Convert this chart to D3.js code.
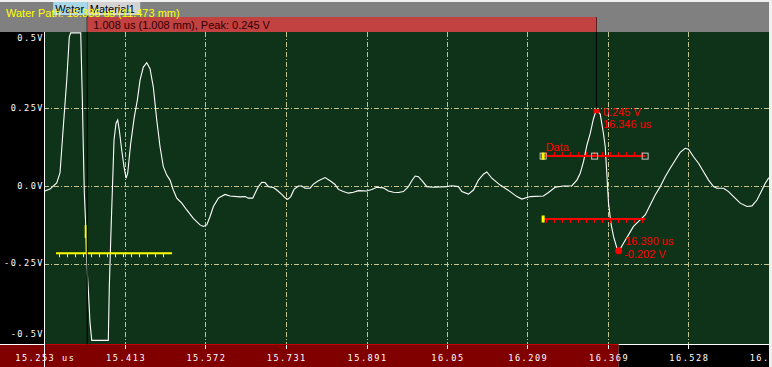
<!DOCTYPE html>
<html>
<head>
<meta charset="utf-8">
<script src="https://cdn.jsdelivr.net/npm/d3@7"></script>
<style>
  html, body { margin: 0; padding: 0; background: #f0f0f0; }
  svg { display: block; }
  .ax { font-family: "DejaVu Sans Mono", monospace; font-size: 8.6px; letter-spacing: 1.5px; fill: #ffffff; }
  .ui { font-family: "Liberation Sans", Arial, sans-serif; font-size: 11px; }
</style>
</head>
<body>
<div id="chart"></div>
<script>
// ---- waveform (time in us, amplitude in V) ----
const timeUs = [
  15.2530, 15.2643, 15.2776, 15.2841, 15.2906, 15.2974, 15.3025, 15.3053, 15.3251, 15.3282,
  15.3302, 15.3322, 15.3350, 15.3370, 15.3401, 15.3435, 15.3469, 15.3797, 15.3817, 15.3851,
  15.3884, 15.3910, 15.3950, 15.3983, 15.4015, 15.4063, 15.4108, 15.4148, 15.4181, 15.4241,
  15.4312, 15.4372, 15.4425, 15.4490, 15.4558, 15.4623, 15.4688, 15.4756, 15.4821, 15.4886,
  15.4954, 15.5019, 15.5084, 15.5152, 15.5251, 15.5350, 15.5480, 15.5613, 15.5679, 15.5746,
  15.5811, 15.5877, 15.5976, 15.6108, 15.6207, 15.6405, 15.6504, 15.6570, 15.6657, 15.6702,
  15.6768, 15.6835, 15.6900, 15.6966, 15.7065, 15.7132, 15.7231, 15.7297, 15.7350, 15.7409,
  15.7474, 15.7560, 15.7627, 15.7692, 15.7791, 15.7857, 15.7956, 15.8088, 15.8187, 15.8286,
  15.8352, 15.8451, 15.8550, 15.8649, 15.8748, 15.8914, 15.9013, 15.9112, 15.9243, 15.9342,
  15.9441, 15.9540, 15.9639, 15.9738, 15.9805, 15.9871, 15.9936, 16.0023, 16.0102, 16.0233,
  16.0498, 16.0597, 16.0728, 16.0795, 16.0926, 16.1025, 16.1124, 16.1223, 16.1290, 16.1389,
  16.1554, 16.1752, 16.1885, 16.1984, 16.2148, 16.2411, 16.2510, 16.2643, 16.2808, 16.2974,
  16.3073, 16.3139, 16.3204, 16.3271, 16.3337, 16.3402, 16.3460, 16.3535, 16.3600, 16.3634,
  16.3667, 16.3699, 16.3747, 16.3798, 16.3865, 16.3911, 16.3995, 16.4094, 16.4193, 16.4326,
  16.4425, 16.4524, 16.4623, 16.4722, 16.4821, 16.4920, 16.5019, 16.5118, 16.5217, 16.5283,
  16.5382, 16.5481, 16.5580, 16.5679, 16.5778, 16.5846, 16.5976, 16.6075, 16.6174, 16.6307,
  16.6440, 16.6539, 16.6638, 16.6737, 16.6802, 16.6867, 16.6940
];
const volts = [
  -0.017, -0.010, 0.010, 0.042, 0.190, 0.340, 0.479, 0.492, 0.492, 0.286,
  0.126, -0.022, -0.125, -0.247, -0.333, -0.439, -0.496, -0.496, -0.323, -0.141,
  0.019, 0.147, 0.202, 0.212, 0.179, 0.115, 0.062, 0.025, 0.041, 0.138,
  0.222, 0.276, 0.340, 0.382, 0.396, 0.377, 0.318, 0.212, 0.126, 0.062,
  0.035, 0.019, -0.013, -0.039, -0.055, -0.077, -0.104, -0.125, -0.130, -0.125,
  -0.098, -0.066, -0.039, -0.027, -0.032, -0.035, -0.034, -0.039, -0.039, -0.023,
  -0.002, 0.012, 0.011, -0.002, -0.005, -0.013, -0.027, -0.038, -0.043, -0.034,
  -0.011, 0.000, 0.000, -0.007, -0.007, 0.006, 0.017, 0.027, 0.017, 0.005,
  -0.011, -0.018, -0.023, -0.020, -0.015, -0.016, -0.011, -0.004, -0.006, -0.016,
  -0.020, -0.021, -0.018, -0.002, 0.017, 0.032, 0.030, 0.014, -0.002, -0.004,
  -0.002, 0.001, -0.002, -0.018, -0.026, -0.013, 0.019, 0.038, 0.045, 0.025,
  0.003, -0.018, -0.034, -0.042, -0.034, -0.032, -0.021, -0.004, 0.000, 0.001,
  0.019, 0.041, 0.078, 0.131, 0.169, 0.217, 0.245, 0.231, 0.167, 0.126,
  0.035, -0.055, -0.120, -0.162, -0.200, -0.208, -0.184, -0.157, -0.130, -0.109,
  -0.093, -0.061, -0.029, -0.002, 0.030, 0.057, 0.083, 0.108, 0.121, 0.118,
  0.094, 0.073, 0.046, 0.019, -0.002, -0.007, -0.007, -0.018, -0.034, -0.055,
  -0.066, -0.064, -0.045, -0.013, 0.009, 0.025, 0.034
];

// ---- axes ----
const xTicks = [15.253, 15.413, 15.572, 15.731, 15.891, 16.05, 16.209, 16.369, 16.528, 16.687];
const xTickLabels = ["15.253 us", "15.413", "15.572", "15.731", "15.891", "16.05", "16.209", "16.369", "16.528", "16.687"];
const yTicks = [0.5, 0.25, 0, -0.25, -0.5];
const yTickLabels = ["0.5V", "0.25V", "0.0V", "-0.25V", "-0.5V"];

// ---- markers / gates ----
const interfaceTime = 15.336;
const peakPoint = [16.346, 0.245];
const minPoint = [16.390, -0.202];
const gateNames  = ["IF", "Data", "Data2"];
const gateStart  = [15.2762, 16.2405, 16.2405];
const gateEnd    = [15.5059, 16.4424, 16.4424];
const gateLevel  = [-0.216, 0.096, -0.106];
const headerText = "Water Path: 15.336 us (11.473 mm)";
const barText = "1.008 us (1.008 mm), Peak: 0.245 V";
const materialNames = ["Water", "Material1"];

const Wd = 772, Ht = 367;
const plot = {left: 44, right: 769, top: 32, bottom: 345};

const svg = d3.select("#chart").append("svg").attr("width", Wd).attr("height", Ht);

const x = d3.scaleLinear().domain([15.253, 16.687]).range([44.3, 768.7]);
const y = d3.scaleLinear().domain([-0.5, 0.5]).range([341.6, 30.4]);

// backgrounds
svg.append("rect").attr("width", Wd).attr("height", Ht).attr("fill", "#f0f0f0");
svg.append("rect").attr("x", 0).attr("y", 2).attr("width", plot.right).attr("height", plot.top - 2).attr("fill", "#808080");
svg.append("rect").attr("x", 0).attr("y", plot.top).attr("width", plot.left).attr("height", plot.bottom - plot.top).attr("fill", "#000");
svg.append("rect").attr("x", plot.left).attr("y", plot.top).attr("width", plot.right - plot.left).attr("height", plot.bottom - plot.top).attr("fill", "#0f3318");

// bottom band
const xMin = x(minPoint[0]);
svg.append("rect").attr("x", 0).attr("y", plot.bottom).attr("width", xMin).attr("height", Ht - plot.bottom).attr("fill", "#800000");
svg.append("rect").attr("x", xMin).attr("y", plot.bottom).attr("width", plot.right - xMin).attr("height", Ht - plot.bottom).attr("fill", "#000");
svg.append("line").attr("x1", 0).attr("x2", plot.left).attr("y1", plot.bottom - 0.5).attr("y2", plot.bottom - 0.5).attr("stroke", "#fff");
svg.append("line").attr("x1", plot.left).attr("x2", xMin).attr("y1", plot.bottom - 0.5).attr("y2", plot.bottom - 0.5).attr("stroke", "#c00000");
svg.append("line").attr("x1", xMin).attr("x2", plot.right).attr("y1", plot.bottom - 0.5).attr("y2", plot.bottom - 0.5).attr("stroke", "#fff");

// clip for plot
svg.append("clipPath").attr("id", "pclip").append("rect")
   .attr("x", plot.left).attr("y", plot.top).attr("width", plot.right - plot.left).attr("height", plot.bottom - plot.top - 1);
svg.append("clipPath").attr("id", "aclip").append("rect")
   .attr("x", 0).attr("y", 0).attr("width", plot.right).attr("height", Ht);

const grid = svg.append("g").attr("clip-path", "url(#pclip)");
grid.selectAll(".vg").data(xTicks.slice(1)).enter().append("line")
    .attr("x1", d => Math.round(x(d)) + 0.5).attr("x2", d => Math.round(x(d)) + 0.5)
    .attr("y1", plot.top).attr("y2", plot.bottom)
    .attr("stroke", "#c4c490").attr("stroke-dasharray", "5,2,1,2");
grid.selectAll(".hg").data([0.25, 0, -0.25]).enter().append("line")
    .attr("x1", plot.left).attr("x2", plot.right)
    .attr("y1", d => Math.round(y(d)) + 0.5).attr("y2", d => Math.round(y(d)) + 0.5)
    .attr("stroke", "#c4c490").attr("stroke-dasharray", "5,2,1,2");

// y labels
svg.selectAll(".ylab").data(yTicks).enter().append("text")
   .attr("class", "ax")
   .attr("x", 44).attr("text-anchor", "end")
   .attr("y", d => Math.max(40.7, Math.min(337.3, y(d) + 2.6)))
   .text((d, i) => yTickLabels[i]);

// white y axis line
svg.append("line").attr("x1", plot.left + 0.5).attr("x2", plot.left + 0.5)
   .attr("y1", plot.top).attr("y2", Ht).attr("stroke", "#fff");

// x ticks + labels
const xg = svg.append("g").attr("clip-path", "url(#aclip)");
xg.selectAll(".xt").data(xTicks).enter().append("line")
  .attr("x1", d => Math.round(x(d)) + 0.5).attr("x2", d => Math.round(x(d)) + 0.5)
  .attr("y1", plot.bottom).attr("y2", plot.bottom + 4).attr("stroke", "#fff");
xg.selectAll(".xl").data(xTicks).enter().append("text")
  .attr("class", "ax").attr("text-anchor", "middle")
  .attr("x", d => x(d) + 1).attr("y", 361)
  .text((d, i) => xTickLabels[i]);

// waveform
const line = d3.line().x(i => x(timeUs[i])).y(i => y(volts[i]));
svg.append("path").attr("clip-path", "url(#pclip)")
   .attr("d", line(d3.range(timeUs.length)))
   .attr("fill", "none").attr("stroke", "#fff").attr("stroke-width", 1.1);

// interface gate (yellow)
const yellow = "#ffff00", red = "#ff0000";
function gate(i, col, tickDir){
  const x0 = x(gateStart[i]), x1 = x(gateEnd[i]), yy = y(gateLevel[i]);
  svg.append("line").attr("x1", x0).attr("x2", x1).attr("y1", yy).attr("y2", yy)
     .attr("stroke", col).attr("stroke-width", 2);
  const tk = d3.range(x0 + 2.7, x1 - 2, 8);
  svg.selectAll(null).data(tk).enter().append("line")
     .attr("x1", d => Math.round(d) + 0.5).attr("x2", d => Math.round(d) + 0.5)
     .attr("y1", yy).attr("y2", yy + tickDir * 4)
     .attr("stroke", col);
  return [x0, x1, yy];
}
const g0 = gate(0, yellow, 1);
// interface cursor bits
const xi = x(interfaceTime);
svg.append("rect").attr("x", xi - 1.5).attr("y", 225).attr("width", 2).attr("height", 13).attr("fill", yellow);
svg.append("line").attr("x1", xi).attr("x2", xi).attr("y1", 238).attr("y2", g0[2]).attr("stroke", yellow);

const g1 = gate(1, red, -1);
const g2 = gate(2, red, 1);
// gate handles
svg.selectAll(".hd").data([g1[0], (g1[0] + g1[1]) / 2 + 0.5, g1[1]]).enter().append("rect")
   .attr("x", d => d - 3).attr("y", g1[2] - 3).attr("width", 6).attr("height", 6)
   .attr("fill", "none").attr("stroke", "#c8c8c8");
[g1, g2].forEach(g => {
  svg.append("rect").attr("x", g[0] - 1.5).attr("y", g[2] - 3.5).attr("width", 3).attr("height", 7).attr("fill", yellow);
});
svg.append("text").attr("class", "ui").attr("x", g1[0] + 2.5).attr("y", g1[2] - 5)
   .attr("fill", red).text(gateNames[1]);

// interface / peak vertical lines
svg.append("line").attr("x1", xi + 1).attr("x2", xi + 1).attr("y1", 2).attr("y2", plot.bottom).attr("stroke", "#000");
const xp = x(peakPoint[0]), yp = y(peakPoint[1]);
svg.append("line").attr("x1", xp).attr("x2", xp).attr("y1", 17).attr("y2", yp).attr("stroke", "#000");

// peak marker + labels
svg.append("rect").attr("x", xp - 3).attr("y", yp - 0.5).attr("width", 6).attr("height", 4).attr("fill", red);
svg.append("text").attr("class", "ui").attr("fill", red).attr("x", xp + 6.5).attr("y", yp + 6).text(peakPoint[1].toFixed(3) + " V");
svg.append("text").attr("class", "ui").attr("fill", red).attr("x", xp + 6.5).attr("y", yp + 18).text(peakPoint[0].toFixed(3) + " us");

// min marker + labels
const xm = x(minPoint[0]), ym = y(minPoint[1]) + 2;
svg.append("circle").attr("cx", xm).attr("cy", ym).attr("r", 3.5).attr("fill", red);
svg.append("text").attr("class", "ui").attr("fill", red).attr("x", xm + 6.5).attr("y", ym - 5.5).text(minPoint[0].toFixed(3) + " us");
svg.append("text").attr("class", "ui").attr("fill", red).attr("x", xm + 5.5).attr("y", ym + 7).text(minPoint[1].toFixed(3) + " V");

// header: material boxes, red bar, texts
svg.append("rect").attr("x", xi - 33).attr("y", 2).attr("width", 34).attr("height", 13).attr("fill", "#a8d8e8");
svg.append("rect").attr("x", xi + 1).attr("y", 2).attr("width", 53).attr("height", 13).attr("fill", "#d3d3d3");
svg.append("text").attr("class", "ui").attr("x", xi - 31).attr("y", 12.5).attr("fill", "#000").text(materialNames[0]);
svg.append("text").attr("class", "ui").attr("x", xi + 3.5).attr("y", 12.5).attr("fill", "#000").text(materialNames[1]);
svg.append("rect").attr("x", xi + 1).attr("y", 17).attr("width", xp - xi - 1).attr("height", 15).attr("fill", "#c24141");
svg.append("text").attr("class", "ui").attr("x", xi + 7).attr("y", 29).attr("fill", "#300000").text(barText);
svg.append("text").attr("class", "ui").attr("x", 6).attr("y", 16.5).attr("fill", yellow).text(headerText);
</script>
</body>
</html>
